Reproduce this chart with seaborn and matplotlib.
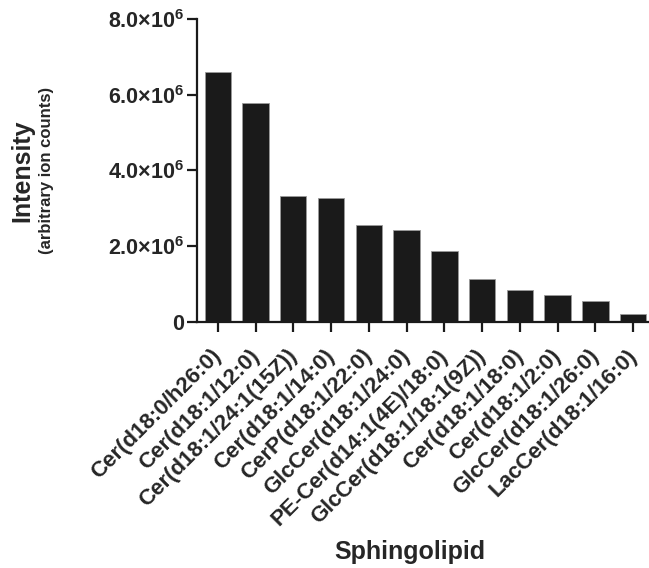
import matplotlib
matplotlib.use("Agg")
import matplotlib.pyplot as plt
import matplotlib.transforms as mtransforms
import seaborn as sns
import pandas as pd

categories = ["Cer(d18:0/h26:0)", "Cer(d18:1/12:0)", "Cer(d18:1/24:1(15Z))",
              "Cer(d18:1/14:0)", "CerP(d18:1/22:0)", "GlcCer(d18:1/24:0)",
              "PE-Cer(d14:1(4E)/18:0)", "GlcCer(d18:1/18:1(9Z))", "Cer(d18:1/18:0)",
              "Cer(d18:1/2:0)", "GlcCer(d18:1/26:0)", "LacCer(d18:1/16:0)"]
intensity = [6.60e6, 5.78e6, 3.33e6, 3.26e6, 2.56e6, 2.42e6,
             1.86e6, 1.13e6, 0.85e6, 0.71e6, 0.55e6, 0.21e6]
ytick_values = [0, 2.0e6, 4.0e6, 6.0e6, 8.0e6]
ytick_labels = ["0", r"2.0×10$^{\mathbf{6}}$", r"4.0×10$^{\mathbf{6}}$",
                r"6.0×10$^{\mathbf{6}}$", r"8.0×10$^{\mathbf{6}}$"]

sns.set_theme(style="white")
plt.rcParams["font.family"] = ["Liberation Sans", "DejaVu Sans"]
plt.rcParams["font.weight"] = "bold"
plt.rcParams["mathtext.fontset"] = "custom"
plt.rcParams["mathtext.rm"] = "Liberation Sans"
plt.rcParams["mathtext.bf"] = "Liberation Sans:bold"

df = pd.DataFrame({"lipid": categories, "intensity": intensity})

fig = plt.figure(figsize=(6.49, 5.68), dpi=100)
ax = fig.add_axes([0.3035, 0.4336, 0.6965, 0.533])
sns.barplot(data=df, x="lipid", y="intensity", color="#1a1a1a", width=0.7,
            edgecolor="#9a9a9a", linewidth=0.6, saturation=1, ax=ax)

ax.set_xlim(-0.55, 11.42)
ax.set_ylim(0, 8.0e6)
ax.set_yticks(ytick_values)
ax.set_yticklabels(ytick_labels, fontsize=15.5, fontweight="bold")
ax.set_xticks(range(len(categories)))
ax.set_xticklabels(categories, rotation=45, ha="right", rotation_mode="anchor",
                   fontsize=16, fontweight="bold")
ax.set_xlabel("")
ax.set_ylabel("")

for s in ["top", "right"]:
    ax.spines[s].set_visible(False)
for s in ["left", "bottom"]:
    ax.spines[s].set_linewidth(1.6)
    ax.spines[s].set_color("#1a1a1a")
ax.tick_params(axis="both", which="major", length=7.5, width=1.6, color="#1a1a1a",
               direction="out", left=True, bottom=True)
ax.tick_params(axis="y", pad=1.5)
ax.tick_params(axis="x", pad=9.5)

offset = mtransforms.ScaledTranslation(-7 / 100, 0, fig.dpi_scale_trans)
for lbl in ax.get_xticklabels():
    lbl.set_transform(lbl.get_transform() + offset)

fig.text(0.034, 0.70, "Intensity", rotation=90, ha="center", va="center",
         fontsize=18, fontweight="bold")
fig.text(0.072, 0.70, "(arbitrary ion counts)", rotation=90, ha="center", va="center",
         fontsize=12, fontweight="bold")
fig.text(0.632, 0.028, "Sphingolipid", ha="center", va="center",
         fontsize=18, fontweight="bold")

fig.savefig("out.png", dpi=100, facecolor="white")
